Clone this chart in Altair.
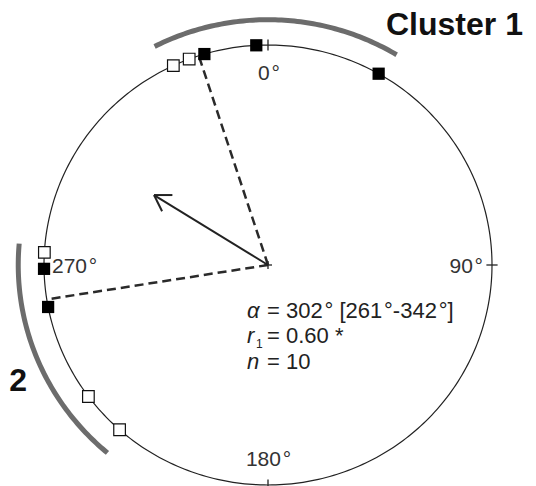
import numpy as np
import pandas as pd
import altair as alt

# Angles in degrees, clockwise from north (0° at top)
filled_deg = [357.0, 343.5, 29.6, 269.0, 259.0]
open_deg = [335.0, 339.4, 273.3, 233.3, 221.5]
mean_deg = 302
ci_deg = [261, 342]
r1 = 0.60
n_obs = 10
cluster_spans = [(333, 391), (220, 275)]
cluster_labels = ["Cluster 1", "2"]
card_deg = [0, 90, 180, 270]
DEG = "\u200a°"
card_text = [f"{d}{DEG}" for d in card_deg]

W, H = 536, 486
CX, CY, RX, RY = 268, 265, 224, 220
xs = alt.Scale(domain=[-CX / RX, (W - CX) / RX], nice=False, zero=False)
ys = alt.Scale(domain=[-(H - CY) / RY, CY / RY], nice=False, zero=False)


def polar(deg, r=1.0):
    t = np.radians(np.asarray(deg, dtype=float))
    return r * np.sin(t), r * np.cos(t)


def X(f="x"):
    return alt.X(f"{f}:Q", scale=xs, axis=None)


def Y(f="y"):
    return alt.Y(f"{f}:Q", scale=ys, axis=None)


def px(v):
    return (v - CX) / RX


def py(v):
    return (CY - v) / RY


# unit circle
a = np.arange(0, 361, 1)
cx, cy = polar(a)
circle = alt.Chart(pd.DataFrame({"x": cx, "y": cy, "i": a})).mark_line(
    color="#222", strokeWidth=1.2).encode(x=X(), y=Y(), order="i:Q")

# cluster arcs outside the circle
arc_rows = []
for name, (a0, a1) in zip(cluster_labels, cluster_spans):
    for k, ang in enumerate(np.linspace(a0, a1, 80)):
        ax_, ay_ = polar(ang, 1.115)
        arc_rows.append({"x": ax_, "y": ay_, "i": k, "g": name})
arcs = alt.Chart(pd.DataFrame(arc_rows)).mark_line(
    color="#6c6c6c", strokeWidth=5, strokeCap="butt").encode(
    x=X(), y=Y(), order="i:Q", detail="g:N")

# tick marks at the cardinal directions, plus centre cross
tick_rows = []
for d in card_deg:
    x0, y0 = polar(d, 0.975)
    x1, y1 = polar(d, 1.025)
    tick_rows.append({"x": x0, "y": y0, "x2": x1, "y2": y1})
c = 0.018
tick_rows.append({"x": -c, "y": 0, "x2": c, "y2": 0})
tick_rows.append({"x": 0, "y": -c, "x2": 0, "y2": c})
ticks = alt.Chart(pd.DataFrame(tick_rows)).mark_rule(
    color="#222", strokeWidth=1.3).encode(
    x=X(), y=Y(), x2="x2:Q", y2="y2:Q")

# confidence-interval limits (dashed radii)
ci_rows = []
for d in ci_deg:
    ex, ey = polar(d)
    ci_rows.append({"x": 0, "y": 0, "x2": ex, "y2": ey})
ci = alt.Chart(pd.DataFrame(ci_rows)).mark_rule(
    color="#2a2a2a", strokeWidth=2.5, strokeDash=[9, 5]).encode(
    x=X(), y=Y(), x2="x2:Q", y2="y2:Q")

# mean resultant vector with arrowhead
tx, ty = polar(mean_deg, r1)
arrow_rows = [{"x": 0, "y": 0, "x2": tx, "y2": ty}]
for side in (-32, 32):
    hx, hy = polar(mean_deg + 180 + side, 0.082)
    arrow_rows.append({"x": tx, "y": ty, "x2": tx + hx, "y2": ty + hy})
arrow = alt.Chart(pd.DataFrame(arrow_rows)).mark_rule(
    color="#222", strokeWidth=2).encode(
    x=X(), y=Y(), x2="x2:Q", y2="y2:Q")

# observations
fx, fy = polar(filled_deg)
ox, oy = polar(open_deg)
filled = alt.Chart(pd.DataFrame({"x": fx, "y": fy})).mark_square(
    size=150, color="#000", opacity=1).encode(x=X(), y=Y())
opened = alt.Chart(pd.DataFrame({"x": ox, "y": oy})).mark_square(
    size=135, fill="#fff", stroke="#111", strokeWidth=1.2, opacity=1,
    fillOpacity=1).encode(x=X(), y=Y())

# cardinal labels
lab = pd.DataFrame({
    "x": [px(269), px(483), px(268.5), px(52)],
    "y": [py(80), py(273), py(466), py(273)],
    "t": card_text,
    "al": ["center", "right", "center", "left"],
})
card_layers = []
for al in ["center", "right", "left"]:
    card_layers.append(alt.Chart(lab[lab.al == al]).mark_text(
        align=al, baseline="alphabetic", font="Liberation Sans", fontSize=21,
        color="#333").encode(x=X(), y=Y(), text="t:N"))

# cluster names
cl = pd.DataFrame({
    "x": [px(386), px(27)],
    "y": [py(35), py(391)],
    "t": cluster_labels,
    "al": ["left", "right"],
})
cl_layers = [
    alt.Chart(cl[cl.al == al]).mark_text(
        align=al, baseline="alphabetic", font="Liberation Sans", fontSize=32,
        fontWeight="bold", color="#111").encode(x=X(), y=Y(), text="t:N")
    for al in ["left", "right"]
]

# summary statistics
rows_y = [py(318), py(343), py(369)]
stat_sym = pd.DataFrame({"x": [px(247)] * 3, "y": rows_y, "t": ["α", "r", "n"]})
stat_val = pd.DataFrame({
    "x": [px(267)] * 3,
    "y": rows_y,
    "t": [
        f"= {mean_deg}{DEG} [{ci_deg[0]}{DEG}-{ci_deg[1]}{DEG}]",
        f"= {r1:.2f} *",
        f"= {n_obs}",
    ],
})
sub = pd.DataFrame({"x": [px(256)], "y": [py(348)], "t": ["1"]})
sym = alt.Chart(stat_sym).mark_text(
    align="left", baseline="alphabetic", font="Liberation Sans", fontSize=22,
    fontStyle="italic", color="#222").encode(x=X(), y=Y(), text="t:N")
val = alt.Chart(stat_val).mark_text(
    align="left", baseline="alphabetic", font="Liberation Sans", fontSize=22,
    color="#222").encode(x=X(), y=Y(), text="t:N")
subs = alt.Chart(sub).mark_text(
    align="left", baseline="alphabetic", font="Liberation Sans", fontSize=12,
    color="#222").encode(x=X(), y=Y(), text="t:N")

chart = alt.layer(
    arcs, circle, ticks, ci, arrow, opened, filled,
    *card_layers, *cl_layers, sym, val, subs,
).properties(
    width=W, height=H, padding=0, autosize=alt.AutoSizeParams(type="none"),
    background="#ffffff",
).configure_view(stroke=None)

chart.save("out.html", embed_options={"renderer": "svg", "actions": False})
